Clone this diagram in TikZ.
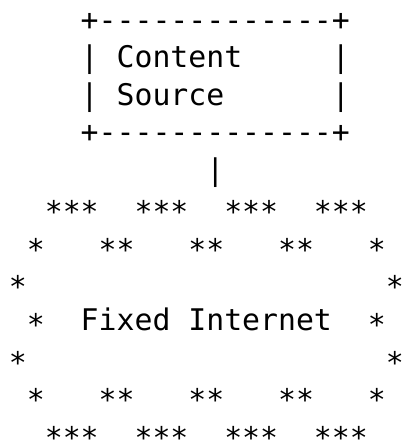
\documentclass[tikz,border=0pt]{standalone}
\usepackage{fontspec}
\setmonofont{DejaVu Sans Mono}
\usepackage{xcolor}

\newcommand{\lowstar}{\raisebox{-5pt}{*}}

\tikzset{
  asciiline/.style={anchor=base west, inner sep=0pt, outer sep=0pt,
    font=\ttfamily\fontsize{29.8}{37.5}\selectfont},
  starline/.style={asciiline, text depth=0pt,
    execute at begin node={\lower5pt\hbox\bgroup},
    execute at end node={\egroup}}
}

\begin{document}
\begin{tikzpicture}[x=17.95pt,y=-37.5pt]

	\useasboundingbox (-0.5,-0.813) rectangle (22,11.0);

	% Content source box
	\node[asciiline] (boxtop)     at (0,0) {~~~~+-------------+};
	\node[asciiline] (boxcontent) at (0,1) {~~~~|~Content~~~~~|};
	\node[asciiline] (boxsource)  at (0,2) {~~~~|~Source~~~~~~|};
	\node[asciiline] (boxbottom)  at (0,3) {~~~~+-------------+};

	% link down
	\node[asciiline] (link)       at (0,4) {~~~~~~~~~~~|};

	% Fixed internet cloud
	\node[starline] (cloudtop)   at (0,5)  {~~***~~***~~***~~***};
	\node[starline] (cloudup)    at (0,6)  {~*~~~**~~~**~~~**~~~*};
	\node[starline] (cloudleft)  at (0,7)  {*~~~~~~~~~~~~~~~~~~~~*};
	\node[asciiline] (cloudlabel) at (0,8) {~\lowstar~~Fixed~Internet~~\lowstar};
	\node[starline] (cloudright) at (0,9)  {*~~~~~~~~~~~~~~~~~~~~*};
	\node[starline] (clouddown)  at (0,10) {~*~~~**~~~**~~~**~~~*};
	\node[starline] (cloudbase)  at (0,11) {~~***~~***~~***~~***};

\end{tikzpicture}
\end{document}
